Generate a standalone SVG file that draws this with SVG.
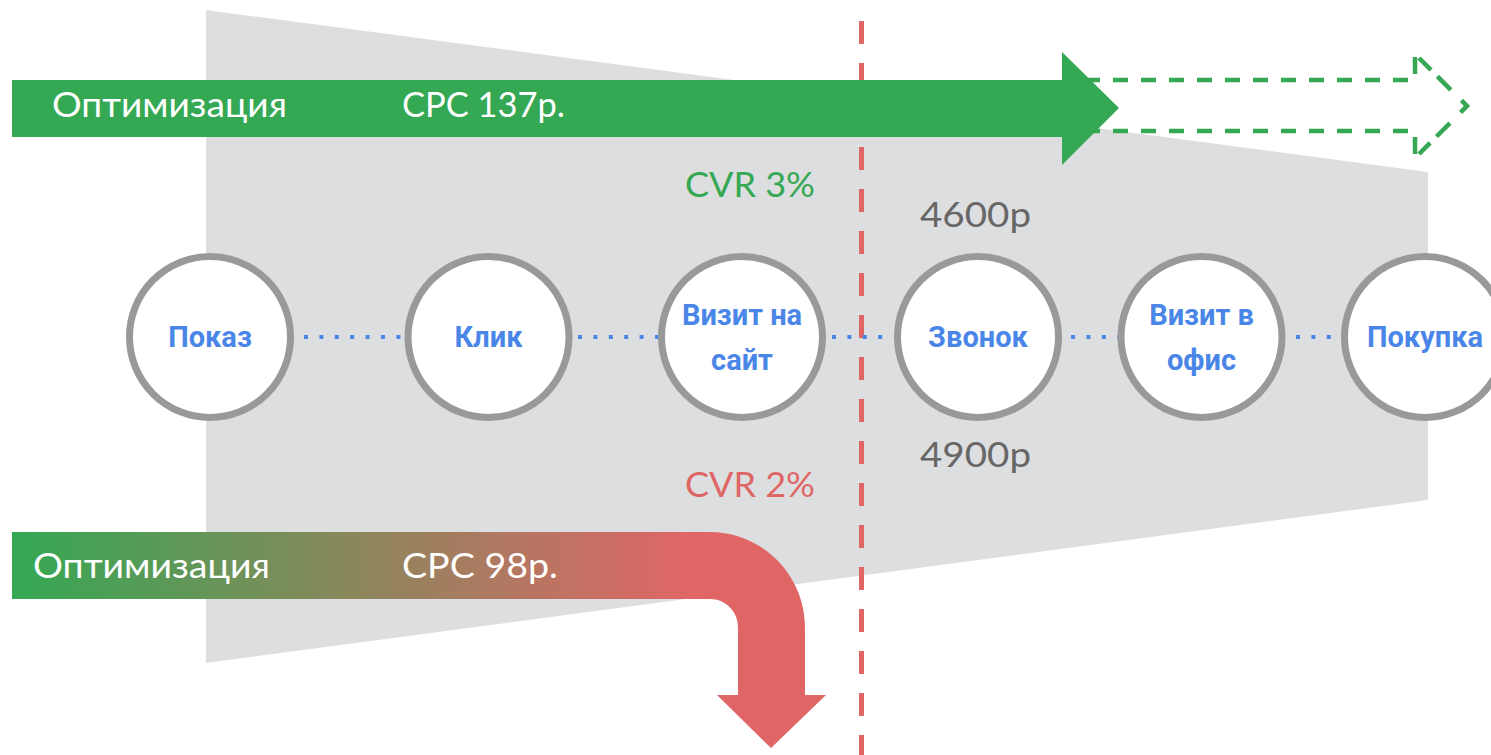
<svg xmlns="http://www.w3.org/2000/svg" width="1491" height="755" viewBox="0 0 1491 755">
  <style>
    .lbl { font-family: Lato, "Open Sans", "Liberation Sans", sans-serif; font-size: 35px; }
    .node circle { fill: #ffffff; stroke: #999999; stroke-width: 7; }
    .node text { font-family: Roboto, "Liberation Sans", sans-serif; font-weight: bold; font-size: 29px; fill: #4A86E8; text-anchor: middle; }
    .fut { fill: none; stroke: #34A853; stroke-width: 4.5; }
  </style>
  <defs>
    <linearGradient id="gr" gradientUnits="userSpaceOnUse" x1="12" y1="0" x2="690" y2="0">
      <stop offset="0" stop-color="#34A853"/>
      <stop offset="1" stop-color="#E06666"/>
    </linearGradient>
  </defs>
  <rect width="1491" height="755" fill="#ffffff"/>
  <!-- funnel background -->
  <polygon id="funnel" points="206,10 1428,172 1428,500 206,663" fill="#DDDEE0"/>
  <!-- red dashed divider -->
  <line id="divider" x1="861.5" y1="21" x2="861.5" y2="755" stroke="#E06666" stroke-width="5" stroke-dasharray="23 19"/>
  <!-- dashed future arrow -->
  <g id="future-arrow" class="fut">
    <line x1="1085" y1="80" x2="1410" y2="80" stroke-dasharray="15 13"/>
    <line x1="1085" y1="131" x2="1410" y2="131" stroke-dasharray="15 13"/>
    <line x1="1415" y1="57" x2="1415" y2="74"/>
    <line x1="1415" y1="137" x2="1415" y2="154"/>
    <path d="M1419,58 L1467,106 L1419,154" stroke-dasharray="17 9 19 15 17 15 19 9 17"/>
  </g>
  <!-- top green arrow -->
  <g id="arrow-top">
    <path d="M12,80 H1062 V52 L1119,108 L1062,165 V137 H12 Z" fill="#34A853"/>
    <text class="lbl" x="52" y="117" fill="#ffffff" textLength="235" lengthAdjust="spacingAndGlyphs">Оптимизация</text>
    <text class="lbl" x="402" y="117" fill="#ffffff" textLength="163" lengthAdjust="spacingAndGlyphs">CPC 137р.</text>
  </g>
  <!-- bottom gradient arrow -->
  <g id="arrow-bottom">
    <path d="M12,532 H710 C762,532 805,575 805,627 V695 H826 L771,748 L717,695 H738 V627 C738,612 726,599 710,599 H12 Z" fill="url(#gr)"/>
    <text class="lbl" x="33" y="578" fill="#ffffff" textLength="237" lengthAdjust="spacingAndGlyphs">Оптимизация</text>
    <text class="lbl" x="402" y="578" fill="#ffffff" textLength="156" lengthAdjust="spacingAndGlyphs">CPC 98р.</text>
  </g>
  <!-- labels -->
  <text id="cvr3" class="lbl" x="685" y="197" fill="#34A853" textLength="130" lengthAdjust="spacingAndGlyphs">CVR 3%</text>
  <text id="cvr2" class="lbl" x="685" y="497" fill="#E06666" textLength="130" lengthAdjust="spacingAndGlyphs">CVR 2%</text>
  <text id="p4600" class="lbl" x="920" y="227" fill="#666666" textLength="111" lengthAdjust="spacingAndGlyphs">4600р</text>
  <text id="p4900" class="lbl" x="920" y="467" fill="#666666" textLength="111" lengthAdjust="spacingAndGlyphs">4900р</text>
  <!-- connectors -->
  <g id="connectors" stroke="#4A86E8" stroke-width="4" stroke-dasharray="4 11.4" fill="none">
    <line x1="304" y1="337" x2="404" y2="337"/>
    <line x1="578" y1="337" x2="658" y2="337"/>
    <line x1="832" y1="337" x2="893" y2="337"/>
    <line x1="1071" y1="337" x2="1118" y2="337"/>
    <line x1="1296" y1="337" x2="1340" y2="337"/>
  </g>
  <!-- nodes -->
  <g id="node-pokaz" class="node">
    <circle cx="210" cy="337" r="80.5"/>
    <text x="210" y="347">Показ</text>
  </g>
  <g id="node-klik" class="node">
    <circle cx="488.5" cy="337" r="80.5"/>
    <text x="488.5" y="347">Клик</text>
  </g>
  <g id="node-vizit-sait" class="node">
    <circle cx="742" cy="337" r="80.5"/>
    <text x="742" y="325">Визит на</text>
    <text x="742" y="370">сайт</text>
  </g>
  <g id="node-zvonok" class="node">
    <circle cx="978" cy="337" r="80.5"/>
    <text x="978" y="347">Звонок</text>
  </g>
  <g id="node-vizit-ofis" class="node">
    <circle cx="1201.5" cy="337" r="80.5"/>
    <text x="1201.5" y="325">Визит в</text>
    <text x="1201.5" y="370">офис</text>
  </g>
  <g id="node-pokupka" class="node">
    <circle cx="1425" cy="337" r="80.5"/>
    <text x="1425" y="347">Покупка</text>
  </g>
</svg>
